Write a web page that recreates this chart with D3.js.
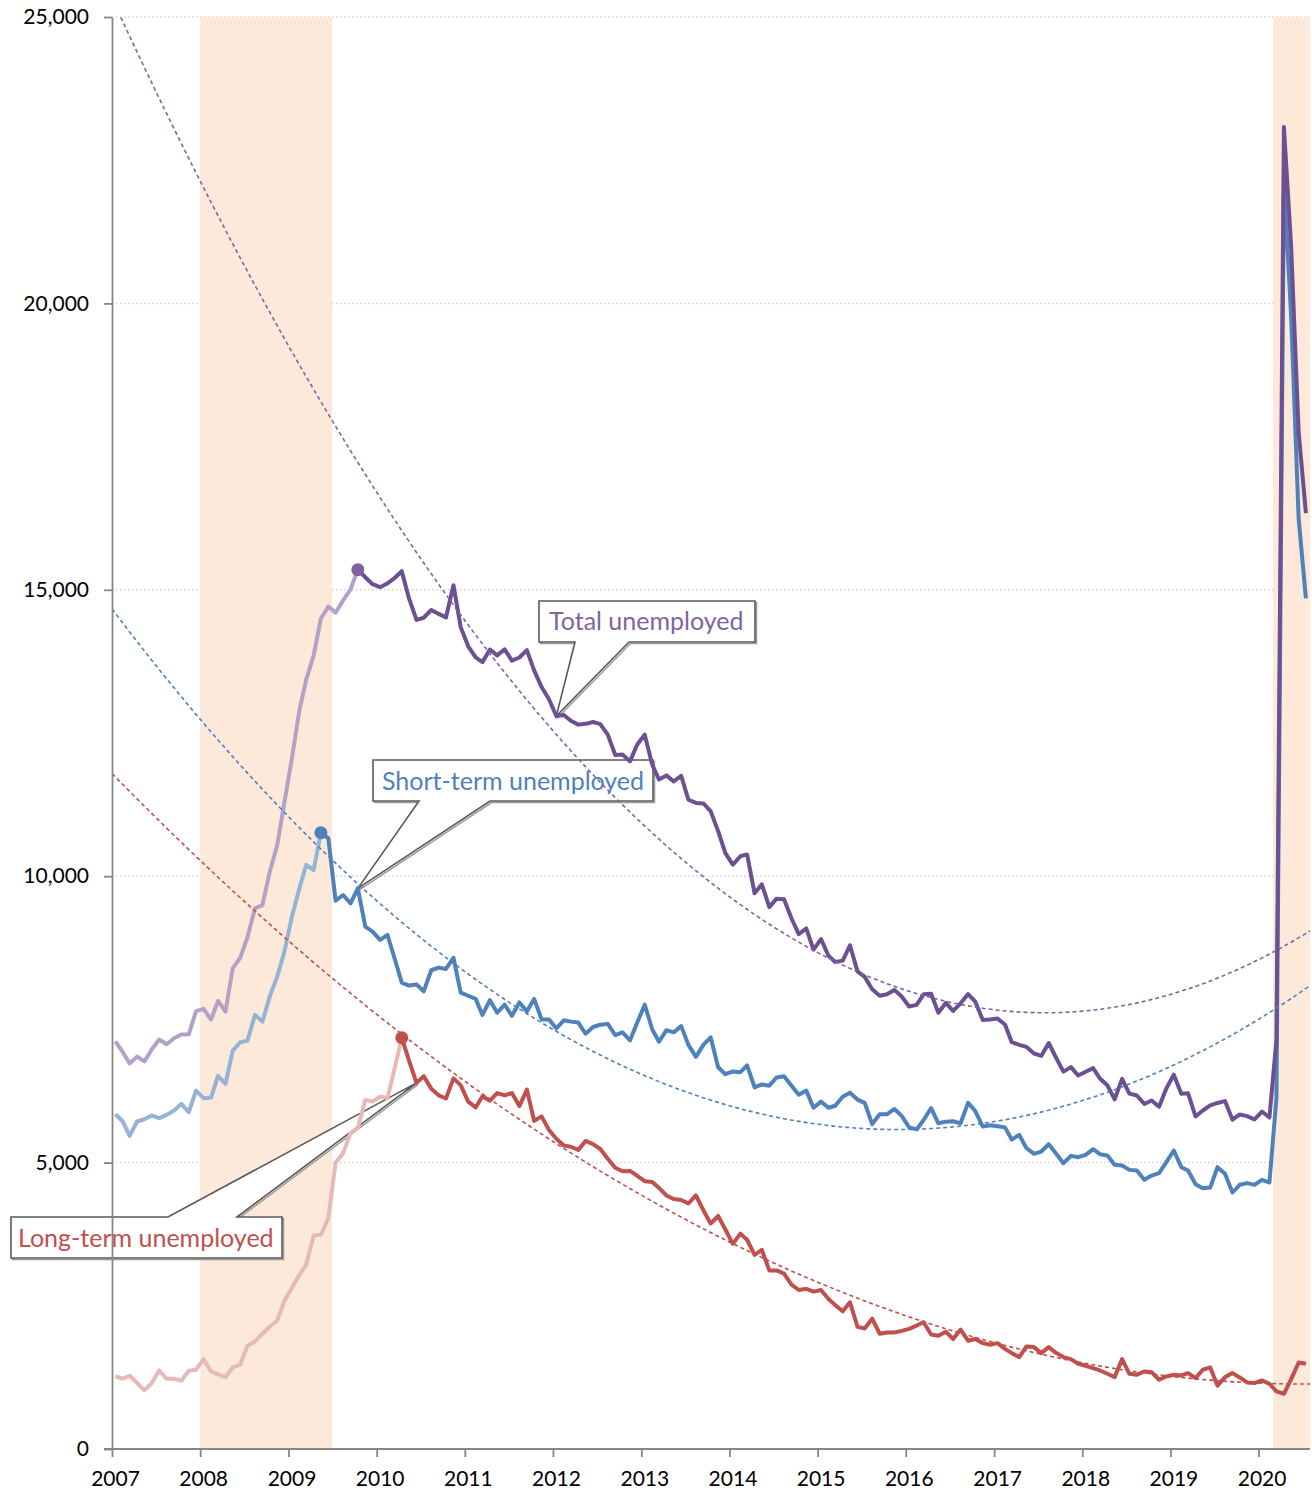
<!DOCTYPE html>
<html>
<head>
<meta charset="utf-8">
<script src="https://cdnjs.cloudflare.com/ajax/libs/d3/7.8.5/d3.min.js"></script>
<style>
  body { margin: 0; background: #fff; }
  text { font-family: Lato, "Open Sans", sans-serif; }
</style>
</head>
<body>
<script>
// monthly values, thousands, Jan 2007 .. Jul 2020
var totalUnemployed = [
  7116, 6927, 6731, 6850, 6766, 6979, 7149, 7067, 7170, 7237, 7240, 7645,
  7685, 7497, 7822, 7637, 8395, 8575, 8937, 9438, 9494, 10074, 10538, 11286,
  12058, 12898, 13426, 13853, 14499, 14707, 14601, 14814, 15009, 15352, 15219, 15098,
  15046, 15113, 15202, 15325, 14849, 14474, 14512, 14648, 14579, 14516, 15081, 14348,
  14013, 13820, 13737, 13957, 13855, 13962, 13763, 13818, 13948, 13594, 13302, 13093,
  12797, 12813, 12713, 12646, 12660, 12692, 12656, 12471, 12115, 12124, 12005, 12298,
  12471, 11950, 11689, 11760, 11654, 11751, 11335, 11279, 11270, 11136, 10787, 10404,
  10202, 10349, 10380, 9702, 9859, 9460, 9608, 9599, 9262, 8990, 9090, 8717,
  8903, 8610, 8504, 8526, 8794, 8338, 8242, 8025, 7914, 7940, 8015, 7899,
  7726, 7754, 7938, 7947, 7616, 7787, 7648, 7781, 7941, 7809, 7489, 7498,
  7514, 7410, 7102, 7056, 7019, 6905, 6862, 7088, 6826, 6588, 6667, 6520,
  6587, 6650, 6468, 6349, 6105, 6462, 6205, 6172, 6024, 6085, 5976, 6293,
  6535, 6202, 6212, 5805, 5910, 5998, 6041, 6074, 5749, 5841, 5812, 5753,
  5892, 5787, 7140, 23078, 20985, 17750, 16338
];

var shortTerm = [
  5845, 5717, 5467, 5717, 5757, 5821, 5775, 5833, 5909, 6025, 5880, 6258,
  6124, 6136, 6514, 6374, 6956, 7101, 7130, 7578, 7461, 7898, 8247, 8683,
  9294, 9788, 10195, 10108, 10760, 10661, 9573, 9672, 9527, 9788, 9119, 9032,
  8887, 8974, 8580, 8142, 8090, 8108, 7991, 8358, 8404, 8381, 8576, 7968,
  7913, 7858, 7578, 7835, 7617, 7757, 7562, 7796, 7640, 7858, 7500, 7500,
  7344, 7484, 7461, 7445, 7250, 7367, 7406, 7422, 7227, 7274, 7133, 7445,
  7757, 7328, 7110, 7312, 7274, 7383, 7055, 6845, 7055, 7188, 6665, 6543,
  6592, 6578, 6699, 6314, 6364, 6343, 6486, 6507, 6343, 6186, 6257, 5958,
  6065, 5958, 5993, 6150, 6221, 6100, 6043, 5672, 5843, 5843, 5936, 5815,
  5615, 5579, 5743, 5950, 5686, 5715, 5722, 5686, 6043, 5900, 5629, 5651,
  5636, 5615, 5401, 5484, 5251, 5153, 5193, 5321, 5153, 4990, 5118, 5094,
  5135, 5234, 5147, 5123, 4961, 4949, 4873, 4862, 4699, 4774, 4815, 5007,
  5211, 4920, 4862, 4623, 4553, 4565, 4920, 4804, 4478, 4612, 4641, 4612,
  4699, 4652, 6125, 22110, 19770, 16240, 14850
];

var longTerm = [
  1267, 1227, 1279, 1152, 1023, 1152, 1372, 1227, 1227, 1192, 1366, 1384,
  1570, 1354, 1302, 1256, 1424, 1471, 1803, 1878, 2012, 2139, 2239, 2588,
  2810, 3041, 3216, 3727, 3740, 4031, 5002, 5165, 5514, 5601, 6095, 6066,
  6153, 6125, 6620, 7180, 6782, 6392, 6509, 6291, 6174, 6119, 6470, 6353,
  6064, 5963, 6158, 6080, 6213, 6174, 6213, 5986, 6275, 5729, 5807, 5573,
  5417, 5300, 5277, 5222, 5378, 5323, 5238, 5066, 4910, 4848, 4855, 4770,
  4676, 4660, 4559, 4426, 4364, 4348, 4286, 4426, 4169, 3935, 4068, 3832,
  3582, 3760, 3653, 3389, 3475, 3118, 3118, 3061, 2869, 2776, 2797, 2747,
  2776, 2619, 2512, 2405, 2562, 2134, 2105, 2276, 2012, 2034, 2034, 2062,
  2098, 2155, 2212, 1998, 1977, 2048, 1920, 2084, 1891, 1920, 1848, 1820,
  1848, 1748, 1674, 1604, 1790, 1779, 1674, 1779, 1674, 1604, 1569, 1488,
  1453, 1412, 1371, 1313, 1255, 1569, 1313, 1296, 1354, 1342, 1209, 1267,
  1296, 1284, 1325, 1238, 1383, 1424, 1104, 1255, 1325, 1249, 1162, 1150,
  1197, 1139, 1005, 964, 1220, 1511, 1488
];

// month index of each series' peak (where the dark part begins)
var peakIndex = { total: 33, short: 28, long: 39 };

// recession periods
var recessions = [["2008-01-01", "2009-07-01"], ["2020-03-01", "2020-08-01"]];

var yTicks = [0, 5000, 10000, 15000, 20000, 25000];
var yearTicks = [2007, 2008, 2009, 2010, 2011, 2012, 2013, 2014, 2015, 2016, 2017, 2018, 2019, 2020];

var width = 1312, height = 1495;

var dates = totalUnemployed.map(function(d, i) { return new Date(2007, i, 15); });
var startDate = new Date(2007, 0, 1), endDate = new Date(2020, 7, 1);

var x = d3.scaleTime().domain([startDate, endDate]).range([112, 1310]),
    y = d3.scaleLinear().domain([0, 25000]).range([1449, 17]);

var svg = d3.select("body").append("svg")
    .attr("width", width)
    .attr("height", height);

svg.append("clipPath").attr("id", "plot")
  .append("rect")
    .attr("x", 112).attr("y", 17)
    .attr("width", 1310 - 112).attr("height", 1449 - 17);

// gridlines
svg.append("g").selectAll("line")
  .data(yTicks.filter(function(d) { return d > 0; }))
  .enter().append("line")
    .attr("x1", 112).attr("x2", 1310)
    .attr("y1", y).attr("y2", y)
    .attr("stroke", "#d4d4d4")
    .attr("stroke-width", 1.5)
    .attr("stroke-dasharray", "1.5 2.5");

// recession shading
svg.append("g").selectAll("rect")
  .data(recessions)
  .enter().append("rect")
    .attr("x", function(d) { return x(new Date(d[0] + "T00:00")); })
    .attr("width", function(d) { return x(new Date(d[1] + "T00:00")) - x(new Date(d[0] + "T00:00")); })
    .attr("y", 17)
    .attr("height", 1449 - 17)
    .attr("fill", "#fde9da");

var series = [
  { key: "long", values: longTerm, dark: "#c0504d", light: "#e6b9b8", trend: "#c0504d" },
  { key: "short", values: shortTerm, dark: "#4f81bd", light: "#95b3d7", trend: "#4f81bd" },
  { key: "total", values: totalUnemployed, dark: "#6b5192", light: "#b3a2c7", trend: "#8064a2" }
];

// callouts: box is layout, tip sits on a data point
var callouts = [
  { key: "total", label: "Total unemployed", color: "#8064a2", at: 60,
    box: [539, 601, 216, 41], base: [575, 629], textX: 549, textY: 630 },
  { key: "short", label: "Short-term unemployed", color: "#4f81bd", at: 33,
    box: [373, 760, 280, 41], base: [419, 490], textX: 382, textY: 790 },
  { key: "long", label: "Long-term unemployed", color: "#c0504d", at: 41,
    box: [11, 1217, 271, 41], base: [168, 237], textX: 18, textY: 1247, top: true }
];

function seriesByKey(k) {
  return series.filter(function(s) { return s.key === k; })[0];
}

function calloutPath(c) {
  var s = seriesByKey(c.key),
      tx = x(dates[c.at]), ty = y(s.values[c.at]),
      bx = c.box[0], by = c.box[1], bw = c.box[2], bh = c.box[3];
  if (c.top) {
    return "M" + bx + "," + by + "H" + c.base[0] + "L" + tx + "," + ty + "L" + c.base[1] + "," + by +
      "H" + (bx + bw) + "V" + (by + bh) + "H" + bx + "Z";
  }
  return "M" + bx + "," + by + "H" + (bx + bw) + "V" + (by + bh) + "H" + c.base[1] +
    "L" + tx + "," + ty + "L" + c.base[0] + "," + (by + bh) + "H" + bx + "Z";
}

var callG = svg.append("g");
callG.selectAll("path.shadow")
  .data(callouts)
  .enter().append("path")
    .attr("class", "shadow")
    .attr("d", calloutPath)
    .attr("transform", "translate(1.5,1.5)")
    .attr("fill", "none")
    .attr("stroke", "#9a9a9a")
    .attr("stroke-width", 1.5);
callG.selectAll("path.box")
  .data(callouts)
  .enter().append("path")
    .attr("class", "box")
    .attr("d", calloutPath)
    .attr("fill", "#fff")
    .attr("stroke", "#595959")
    .attr("stroke-width", 1.6)
    .attr("stroke-linejoin", "miter");
callG.selectAll("text")
  .data(callouts)
  .enter().append("text")
    .attr("x", function(d) { return d.textX; })
    .attr("y", function(d) { return d.textY; })
    .attr("fill", function(d) { return d.color; })
    .style("font-size", "25px")
    .text(function(d) { return d.label; });

// lines
var line = d3.line()
    .x(function(d) { return x(d.date); })
    .y(function(d) { return y(d.value); });

var lineG = svg.append("g").attr("clip-path", "url(#plot)");

series.forEach(function(s) {
  var pts = s.values.map(function(v, i) { return { date: dates[i], value: v, i: i }; }),
      p = peakIndex[s.key];
  lineG.append("path")
    .datum(pts.slice(0, p + 1))
    .attr("d", line)
    .attr("fill", "none")
    .attr("stroke", s.light)
    .attr("stroke-width", 4)
    .attr("stroke-linejoin", "round");
});
series.forEach(function(s) {
  var pts = s.values.map(function(v, i) { return { date: dates[i], value: v, i: i }; }),
      p = peakIndex[s.key];
  lineG.append("path")
    .datum(pts.slice(p))
    .attr("d", line)
    .attr("fill", "none")
    .attr("stroke", s.dark)
    .attr("stroke-width", 4)
    .attr("stroke-linejoin", "round");
});

// quadratic trend fitted to the post-peak part of each series
function yearsSince(d) { return (d - startDate) / (365.25 * 864e5); }

function quadFit(ts, vs) {
  var s = [0, 0, 0, 0, 0], r = [0, 0, 0];
  ts.forEach(function(t, k) {
    var p = 1;
    for (var j = 0; j < 5; j++) {
      s[j] += p;
      if (j < 3) r[j] += p * vs[k];
      p *= t;
    }
  });
  var A = [[s[0], s[1], s[2]], [s[1], s[2], s[3]], [s[2], s[3], s[4]]];
  function det(m) {
    return m[0][0] * (m[1][1] * m[2][2] - m[1][2] * m[2][1]) -
           m[0][1] * (m[1][0] * m[2][2] - m[1][2] * m[2][0]) +
           m[0][2] * (m[1][0] * m[2][1] - m[1][1] * m[2][0]);
  }
  var D = det(A), coef = [];
  for (var c = 0; c < 3; c++) {
    var M = A.map(function(row, ri) { return row.map(function(v, ci) { return ci === c ? r[ri] : v; }); });
    coef.push(det(M) / D);
  }
  return coef;
}

var tEnd = yearsSince(endDate);
series.forEach(function(s) {
  var p = peakIndex[s.key],
      ts = dates.slice(p).map(yearsSince),
      cf = quadFit(ts, s.values.slice(p)),
      samples = d3.range(0, 301).map(function(k) {
        var t = tEnd * k / 300;
        return { date: new Date(+startDate + t * 365.25 * 864e5), value: cf[0] + cf[1] * t + cf[2] * t * t };
      });
  lineG.append("path")
    .datum(samples)
    .attr("d", line)
    .attr("fill", "none")
    .attr("stroke", s.trend)
    .attr("stroke-width", 1.6)
    .attr("stroke-dasharray", "4 3");
});

// peak markers
svg.append("g").selectAll("circle")
  .data(series)
  .enter().append("circle")
    .attr("cx", function(s) { return x(dates[peakIndex[s.key]]); })
    .attr("cy", function(s) { return y(s.values[peakIndex[s.key]]); })
    .attr("r", 6.5)
    .attr("fill", function(s) { return s.key === "total" ? "#8064a2" : s.dark; });

// axes
var yAxis = svg.append("g")
    .attr("transform", "translate(112,0)")
    .call(d3.axisLeft(y).tickValues(yTicks).tickFormat(d3.format(",")).tickSize(8).tickSizeOuter(0).tickPadding(15));
var xAxis = svg.append("g")
    .attr("transform", "translate(0,1449)")
    .call(d3.axisBottom(x)
      .tickValues(yearTicks.map(function(yr) { return new Date(yr, 0, 1); }))
      .tickFormat(d3.timeFormat("%Y")).tickSize(8).tickSizeOuter(0).tickPadding(14));

[yAxis, xAxis].forEach(function(ax) {
  ax.select(".domain").attr("stroke", "#868686").attr("stroke-width", 1.8);
  ax.selectAll(".tick line").attr("stroke", "#868686").attr("stroke-width", 1.8);
  ax.selectAll("text").style("font-size", "21px").attr("fill", "#000")
    .style("font-family", "Lato, 'Open Sans', sans-serif");
});
xAxis.selectAll("text").attr("x", 3);
xAxis.select(".domain").attr("d", "M104,0H1310");
</script>
</body>
</html>
